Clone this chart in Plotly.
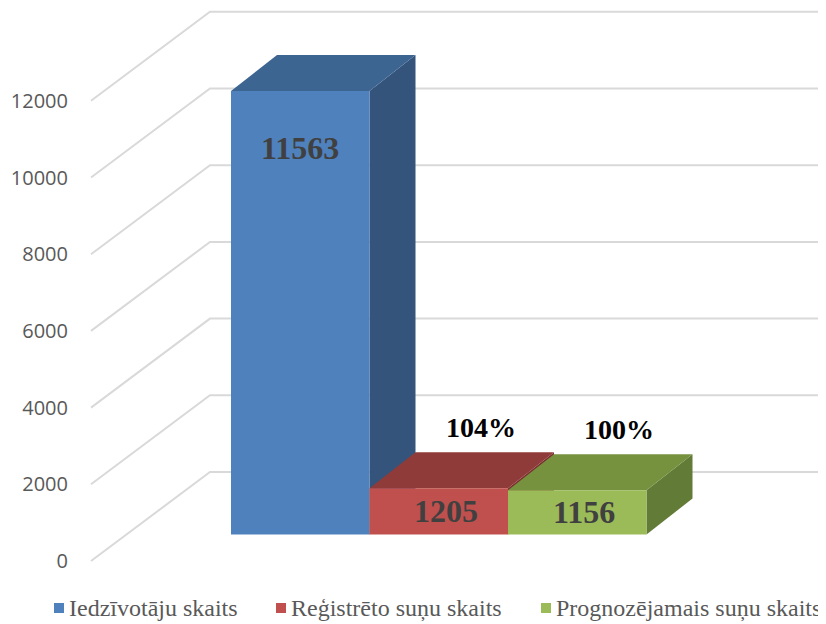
import plotly.graph_objects as go

# ---- data ----
series = ["Iedzīvotāju skaits", "Reģistrēto suņu skaits", "Prognozējamais suņu skaits"]
values = [11563, 1205, 1156]
pct_labels = ["", "104%", "100%"]
y_ticks = [0, 2000, 4000, 6000, 8000, 10000, 12000]

# ---- styles ----
front_colors = ["#4F81BD", "#C0504D", "#9BBB59"]
top_colors = ["#3D6592", "#8F3B39", "#76923F"]
side_colors = ["#34547C", "#7A302E", "#627B37"]
GRID = "#D9D9D9"

PAGE_W, PAGE_H = 826, 624
PAD = 8                       # default page body margin
FIG_W, FIG_H = PAGE_W - PAD, PAGE_H - PAD
S = 0.03835                   # pixels per value unit
BASE_PX = 534.5               # pixel row of value 0 on the bar front plane
L = 88                        # left edge of plotting area (page pixels)


def py(p):
    """convert a page pixel row into y-axis units"""
    return (BASE_PX - p) / S


def paper_x(p):
    return (p - L) / (PAGE_W - L)


def paper_y(p):
    return 1 - (p - PAD) / FIG_H


FRONT_OFF = py(561)   # front end of floor gridlines
BACK_OFF = py(472)    # back wall offset
GX_FRONT, GX_BACK, GX_END = 91, 210, PAGE_W
BX0, BW = 231, 138.5  # first bar left edge, bar width
DX, DY = 46, 36 / S   # bar depth vector

fig = go.Figure()

# gridlines (floor diagonals + back wall)
for v in y_ticks:
    fig.add_trace(go.Scatter(
        x=[GX_FRONT, GX_BACK, GX_END],
        y=[v + FRONT_OFF, v + BACK_OFF, v + BACK_OFF],
        mode="lines", line=dict(color=GRID, width=2),
        hoverinfo="skip", showlegend=False))

annotations = []
# 3D bars
for i, (name, v) in enumerate(zip(series, values)):
    a = BX0 + i * BW
    b = a + BW
    side = ([b, b + DX, b + DX, b, b], [0, DY, v + DY, v, 0])
    top = ([a, b, b + DX, a + DX, a], [v, v, v + DY, v + DY, v])
    front = ([a, b, b, a, a], [0, 0, v, v, 0])
    for (xs, ys), col in ((side, side_colors[i]), (top, top_colors[i]), (front, front_colors[i])):
        fig.add_trace(go.Scatter(
            x=xs, y=ys, fill="toself", fillcolor=col, mode="lines",
            line=dict(width=0, color=col), name=name,
            hoverinfo="skip", showlegend=False))
    # value label: inside end for tall bars, centred for short ones
    centred = v / 2 > v - 57 / S
    annotations.append(dict(
        x=a + BW / 2 + (7 if centred else 0),
        y=v / 2 if centred else v - 57 / S, xref="x", yref="y",
        text=f"<b>{v}</b>", showarrow=False,
        font=dict(family="Liberation Serif", size=32, color="#404040")))
    if pct_labels[i]:
        annotations.append(dict(
            x=a + BW / 2 + 42, y=v + DY + 25 / S, xref="x", yref="y",
            text=f"<b>{pct_labels[i]}</b>", showarrow=False,
            font=dict(family="Liberation Serif", size=28, color="#000000")))

# manual legend
legend_x = [54, 276, 541]
LEG_PX = 608
shapes = []
for i, name in enumerate(series):
    shapes.append(dict(type="rect", xref="paper", yref="paper",
                       x0=paper_x(legend_x[i]), x1=paper_x(legend_x[i] + 10),
                       y0=paper_y(LEG_PX + 5), y1=paper_y(LEG_PX - 5),
                       fillcolor=front_colors[i], line=dict(width=0)))
    annotations.append(dict(
        x=paper_x(legend_x[i] + 13), y=paper_y(LEG_PX), xref="paper", yref="paper",
        xanchor="left", yanchor="middle", text=name, showarrow=False,
        font=dict(family="Liberation Serif", size=24, color="#595959")))

fig.update_layout(
    width=FIG_W, height=FIG_H, autosize=False,
    margin=dict(l=L - PAD, r=0, t=0, b=0),
    paper_bgcolor="white", plot_bgcolor="white",
    showlegend=False,
    xaxis=dict(range=[L, PAGE_W], visible=False, fixedrange=True),
    yaxis=dict(range=[py(PAGE_H), py(PAD)], showgrid=False, zeroline=False,
               showline=False, ticks="",
               tickvals=[v + FRONT_OFF for v in y_ticks],
               ticktext=[str(v) for v in y_ticks],
               ticklabelstandoff=19,
               tickfont=dict(family="Open Sans", size=20, color="#595959"),
               fixedrange=True),
    annotations=annotations, shapes=shapes,
)

fig.write_html("out.html", config={"displayModeBar": False})
